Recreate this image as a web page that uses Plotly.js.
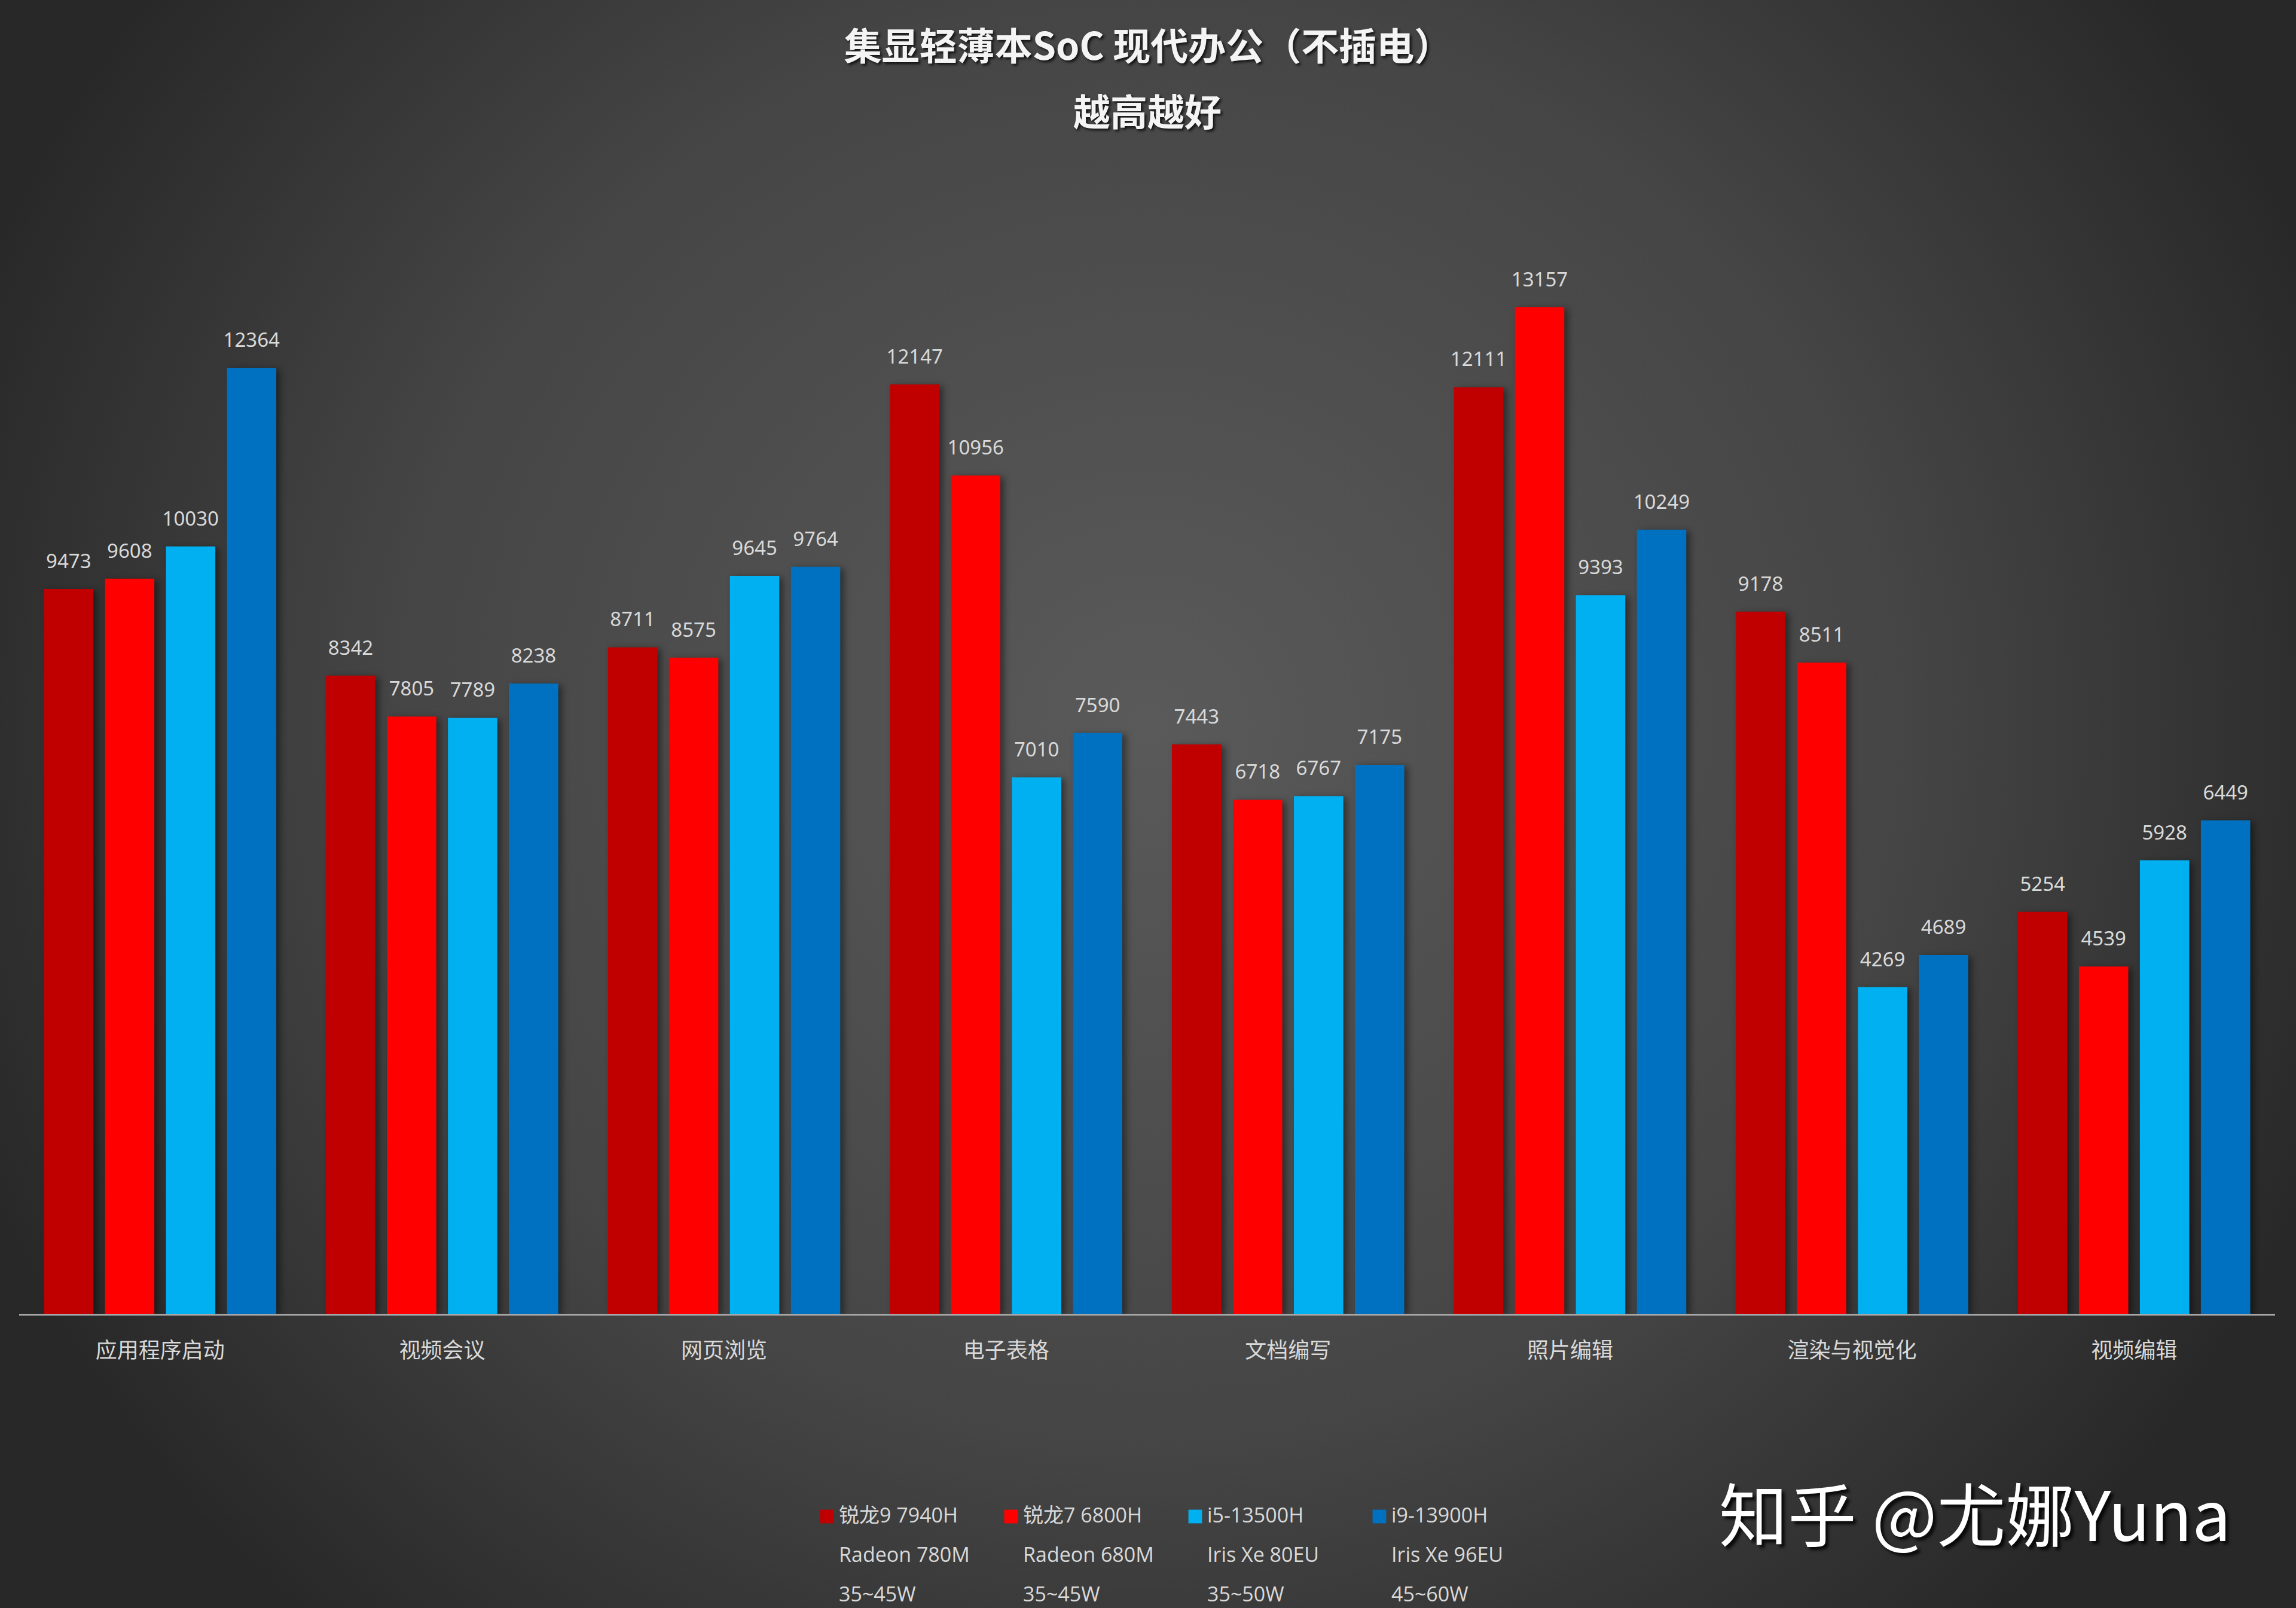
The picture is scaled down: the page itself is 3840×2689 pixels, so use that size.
<!DOCTYPE html>
<html>
<head>
<meta charset="utf-8">
<script src="https://cdn.plot.ly/plotly-3.0.1.min.js"></script>
<style>
  html, body { margin: 0; padding: 0; }
  body {
    width: 3840px; height: 2689px; overflow: hidden;
    background: radial-gradient(ellipse 55% 75% at 50% 45%, #5a5a5a 0%, #454545 60%, #282828 100%);
  }
  #chart { width: 3840px; height: 2689px; }
  .barlayer .point path { filter: drop-shadow(6px 3px 6px rgba(0,0,0,0.45)); }
  .legend .legendpoints path { transform-origin: 0 0; transform: translate(20px, 0px) scale(1.9); }
</style>
</head>
<body>
<div id="chart"></div>
<script>
const categories = ['应用程序启动', '视频会议', '网页浏览', '电子表格', '文档编写', '照片编辑', '渲染与视觉化', '视频编辑'];

const seriesNames = [
  ['锐龙9 7940H', 'Radeon 780M', '35~45W'],
  ['锐龙7 6800H', 'Radeon 680M', '35~45W'],
  ['i5-13500H', 'Iris Xe 80EU', '35~50W'],
  ['i9-13900H', 'Iris Xe 96EU', '45~60W']
];

const ryzen9_7940H = [9473, 8342, 8711, 12147, 7443, 12111, 9178, 5254];
const ryzen7_6800H = [9608, 7805, 8575, 10956, 6718, 13157, 8511, 4539];
const i5_13500H   = [10030, 7789, 9645, 7010, 6767, 9393, 4269, 5928];
const i9_13900H   = [12364, 8238, 9764, 7590, 7175, 10249, 4689, 6449];

const seriesValues = [ryzen9_7940H, ryzen7_6800H, i5_13500H, i9_13900H];
const seriesColors = ['#C00000', '#FF0000', '#00B0F0', '#0070C0'];

const legendSpan = s => '<span style="font-size:34px">' + s + '</span>';
// value label, with a small blank second line so the number sits a little above the bar
const valueLabel = v => '<span style="font-size:33px">' + v + '</span><br>\u00a0';

const traces = seriesValues.map((vals, i) => ({
  type: 'bar',
  name: seriesNames[i].map(legendSpan).join('<br><br>'),
  x: categories,
  y: vals,
  text: vals.map(valueLabel),
  textposition: 'outside',
  constraintext: 'none',
  cliponaxis: false,
  textfont: { family: 'Noto Sans, Noto Sans CJK SC, sans-serif', size: 20, color: '#d9d9d9' },
  marker: { color: seriesColors[i], line: { width: 0 } },
  hoverinfo: 'x+y'
}));

const layout = {
  width: 3840,
  height: 2689,
  paper_bgcolor: 'rgba(0,0,0,0)',
  plot_bgcolor: 'rgba(0,0,0,0)',
  margin: { l: 32, r: 35, t: 300, b: 492, pad: 0 },
  font: { family: 'Noto Sans CJK SC, Noto Sans, sans-serif', color: '#d9d9d9' },
  title: {
    text: '集显轻薄本SoC 现代办公（不插电）',
    xref: 'container', x: 0.5, xanchor: 'center',
    yref: 'container', y: 1 - 78 / 2689, yanchor: 'middle',
    font: { family: 'Noto Sans CJK SC, sans-serif', size: 63, color: '#f4f4f4', weight: 'bold',
            shadow: '3px 3px 4px rgba(0,0,0,0.75)' }
  },
  barmode: 'group',
  bargap: 0.135,
  bargroupgap: 0.19,
  xaxis: {
    type: 'category',
    showline: true, linecolor: '#a6a6a6', linewidth: 3,
    ticks: '', showgrid: false, zeroline: false,
    ticklabelstandoff: 28,
    tickfont: { family: 'Noto Sans CJK SC, sans-serif', size: 36, color: '#d9d9d9' }
  },
  yaxis: { visible: false, range: [0, 14826], showgrid: false, zeroline: false },
  showlegend: true,
  legend: {
    orientation: 'h',
    xref: 'container', x: 1363 / 3840, xanchor: 'left',
    yref: 'container', y: 1 - 2513 / 2689, yanchor: 'top',
    valign: 'top',
    entrywidth: 263,
    bgcolor: 'rgba(0,0,0,0)',
    font: { family: 'Open Sans, Noto Sans CJK SC, sans-serif', size: 25.4, color: '#d9d9d9' }
  },
  annotations: [
    {
      text: '越高越好', showarrow: false,
      xref: 'paper', x: 0.5, xanchor: 'center',
      yref: 'paper', y: (2197 - 184) / 1897, yanchor: 'middle',
      font: { family: 'Noto Sans CJK SC, sans-serif', size: 62, color: '#f4f4f4', weight: 'bold',
              shadow: '3px 3px 4px rgba(0,0,0,0.75)' }
    },
    {
      text: '知乎 @尤娜Yuna', showarrow: false,
      xref: 'paper', x: (3303 - 32) / 3773, xanchor: 'center',
      yref: 'paper', y: (2197 - 2527) / 1897, yanchor: 'middle',
      font: { family: 'Noto Sans CJK SC, sans-serif', size: 115, color: '#ffffff',
              shadow: '5px 5px 5px rgba(0,0,0,0.85)' }
    }
  ]
};

Plotly.newPlot('chart', traces, layout, { displayModeBar: false, staticPlot: true });
</script>
</body>
</html>
